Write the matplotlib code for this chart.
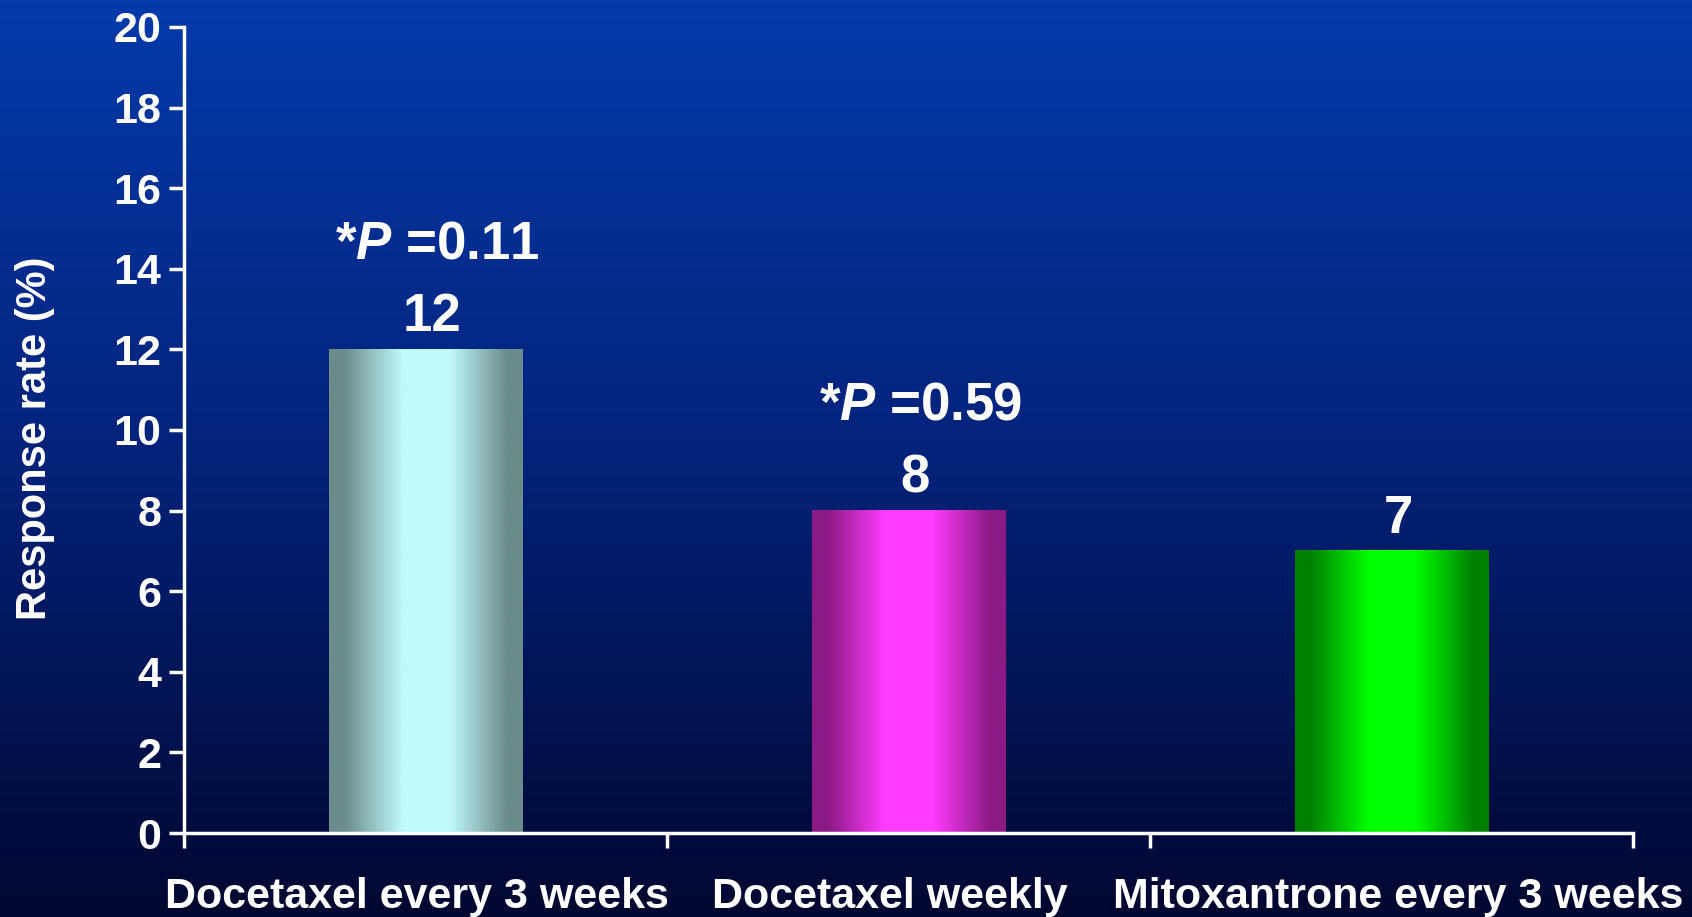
import numpy as np
import matplotlib
matplotlib.use('Agg')
import matplotlib.pyplot as plt
import matplotlib.transforms as mtransforms
from matplotlib.colors import LinearSegmentedColormap

##########
# Data
##########
categories = ['Docetaxel every 3 weeks', 'Docetaxel weekly', 'Mitoxantrone every 3 weeks']
response_rate = [12, 8, 7]
p_values = ['0.11', '0.59', None]

# (edge colour, centre colour) for the shaded bars
bar_shades = [('#6b8c8a', '#c0fafa'), ('#8c1a85', '#ff3cff'), ('#008000', '#00ff00')]

plt.rcParams['font.family'] = ['Liberation Sans', 'DejaVu Sans']
plt.rcParams['font.weight'] = 'bold'
plt.rcParams['mathtext.fontset'] = 'custom'
plt.rcParams['mathtext.it'] = 'Liberation Sans:italic:bold'
plt.rcParams['mathtext.rm'] = 'Liberation Sans:bold'

fig = plt.figure(figsize=(16.92, 9.17), dpi=100)

# background gradient over the whole figure
bg = fig.add_axes([0, 0, 1, 1], zorder=-10)
bg_cmap = LinearSegmentedColormap.from_list('bg', ['#043aaa', '#03227a', '#000730'])
bg.imshow(np.linspace(0, 1, 256).reshape(-1, 1), cmap=bg_cmap, aspect='auto',
          extent=[0, 1, 0, 1], origin='upper')
bg.set_axis_off()

ax = fig.add_axes([0.1085, 0.0916, 0.8566, 0.879])
ax.patch.set_alpha(0)

width = 0.4
xs = np.arange(len(categories)) + 0.5
bars = ax.bar(xs, response_rate, width=width, color='none', edgecolor='none')

# horizontal shading inside each bar: dark edges, wide light middle
t = np.linspace(0, 1, 300)
d = np.abs(t - 0.50)
profile = np.clip((0.42 - d) / 0.30, 0, 1)
for bar, (edge, centre) in zip(bars, bar_shades):
    cmap = LinearSegmentedColormap.from_list('b', [edge, centre])
    x0 = bar.get_x()
    ax.imshow(profile.reshape(1, -1), cmap=cmap, vmin=0, vmax=1, aspect='auto',
              extent=[x0, x0 + bar.get_width(), 0, bar.get_height()], zorder=2)

for x, v, p in zip(xs, response_rate, p_values):
    ax.annotate(str(v), (x, v), xytext=(7, 18), textcoords='offset pixels',
                ha='center', va='baseline', color='white', fontsize=38, fontweight='bold')
    if p is not None:
        ax.annotate('*$P$ =' + p, (x, v), xytext=(12, 91), textcoords='offset pixels',
                    ha='center', va='baseline', color='white', fontsize=38, fontweight='bold')

ax.set_xlim(0, 3)
ax.set_ylim(0, 20)
ax.set_yticks(range(0, 21, 2))
ax.set_xticks([0, 1, 2, 3])
ax.set_xticklabels([])
ax.set_xticks(xs, minor=True)
ax.set_xticklabels(categories, minor=True)

for s in ['top', 'right']:
    ax.spines[s].set_visible(False)
for s in ['left', 'bottom']:
    ax.spines[s].set_color('white')
    ax.spines[s].set_linewidth(2.5)
ax.spines['bottom'].set_zorder(3)

ax.tick_params(axis='y', colors='white', labelsize=31, width=2.5, length=11, pad=5)
ax.tick_params(axis='x', which='major', colors='white', width=2.5, length=11)
ax.tick_params(axis='x', which='minor', colors='white', length=0, labelsize=31, pad=32)
for lab in ax.get_yticklabels() + ax.get_xticklabels(minor=True):
    lab.set_fontweight('bold')

# nudge the category labels a little, as in the original slide
for lab, dx in zip(ax.get_xticklabels(minor=True), [-8, -18, 7]):
    lab.set_transform(lab.get_transform() + mtransforms.Affine2D().translate(dx, 0))

ax.set_ylabel('Response rate (%)', color='white', fontsize=30, fontweight='bold')
ax.yaxis.set_label_coords(-0.089, 0.49)

fig.savefig('out.png', dpi=100)
